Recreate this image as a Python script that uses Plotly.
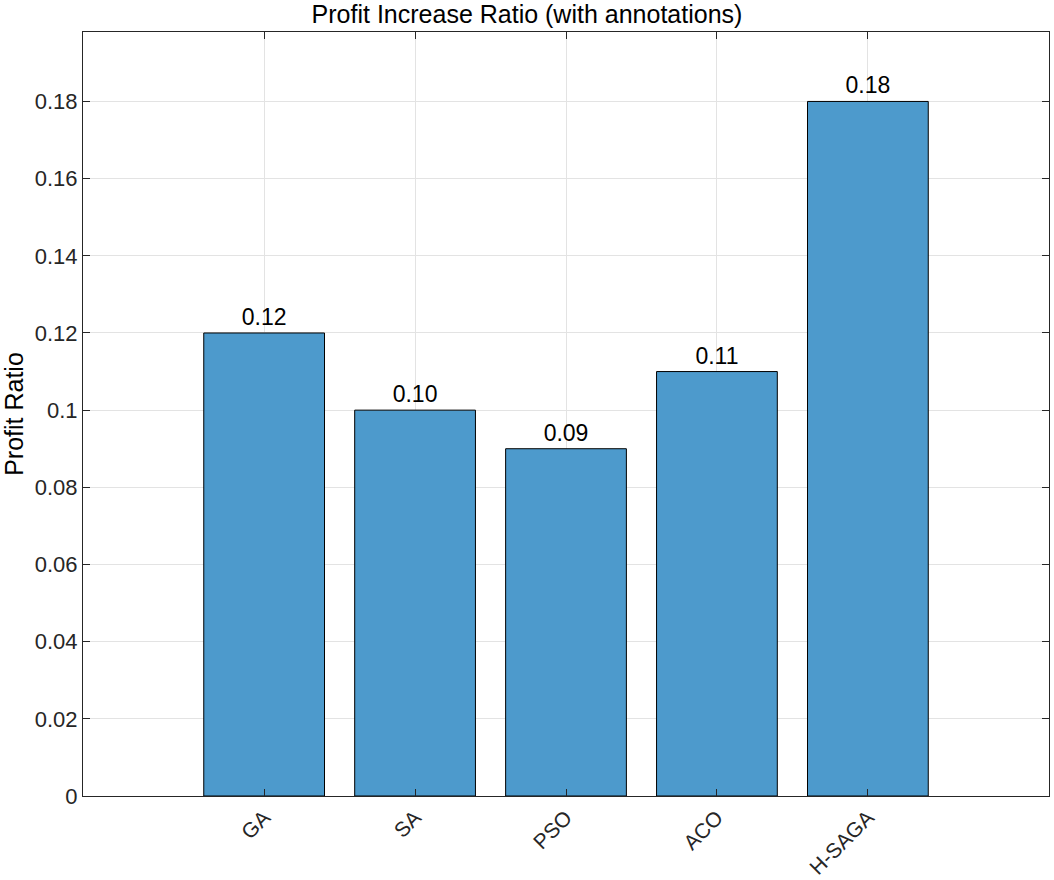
import plotly.graph_objects as go

categories = ["GA", "SA", "PSO", "ACO", "H-SAGA"]
values = [0.12, 0.10, 0.09, 0.11, 0.18]
labels = ["0.12", "0.10", "0.09", "0.11", "0.18"]
ytick_vals = [0, 0.02, 0.04, 0.06, 0.08, 0.10, 0.12, 0.14, 0.16, 0.18]
ytick_text = ["0", "0.02", "0.04", "0.06", "0.08", "0.1", "0.12", "0.14", "0.16", "0.18"]

FONT = "Liberation Sans, Arial, Helvetica, sans-serif"

fig = go.Figure()
fig.add_trace(go.Bar(
    x=categories, y=values, width=0.8,
    marker=dict(color="#4d9acc", line=dict(color="black", width=1)),
    text=labels, textposition="outside", cliponaxis=False, textangle=0,
    textfont=dict(size=23, color="black", family=FONT),
))

fig.update_layout(
    width=1054, height=880,
    margin=dict(l=83, r=5, t=32, b=84, autoexpand=False),
    paper_bgcolor="white", plot_bgcolor="white",
    showlegend=False,
    font=dict(family=FONT, color="#262626"),
    title=dict(text="Profit Increase Ratio (with annotations)", x=0.5, xanchor="center",
               y=1 - 14 / 880, yanchor="middle", font=dict(size=25, color="black", family=FONT)),
    xaxis=dict(
        type="category", range=[-1.2, 5.2], automargin=False,
        tickangle=-45, tickfont=dict(size=21, color="#262626"),
        showgrid=True, gridcolor="#e3e3e3", gridwidth=1,
        ticks="inside", ticklen=7, tickcolor="#262626",
        showline=True, linecolor="#262626", linewidth=1, mirror="ticks",
        zeroline=False,
    ),
    yaxis=dict(
        range=[0, 0.198], automargin=False,
        tickvals=ytick_vals, ticktext=ytick_text,
        tickfont=dict(size=22, color="#262626"),
        showgrid=True, gridcolor="#e3e3e3", gridwidth=1,
        ticks="inside", ticklen=7, tickcolor="#262626",
        showline=True, linecolor="#262626", linewidth=1, mirror="ticks",
        zeroline=False,
        title=dict(text="Profit Ratio", font=dict(size=25, color="black"), standoff=8),
    ),
)

fig.write_html("out.html", config={"displayModeBar": False},
               post_script="document.body.style.margin='0';")
